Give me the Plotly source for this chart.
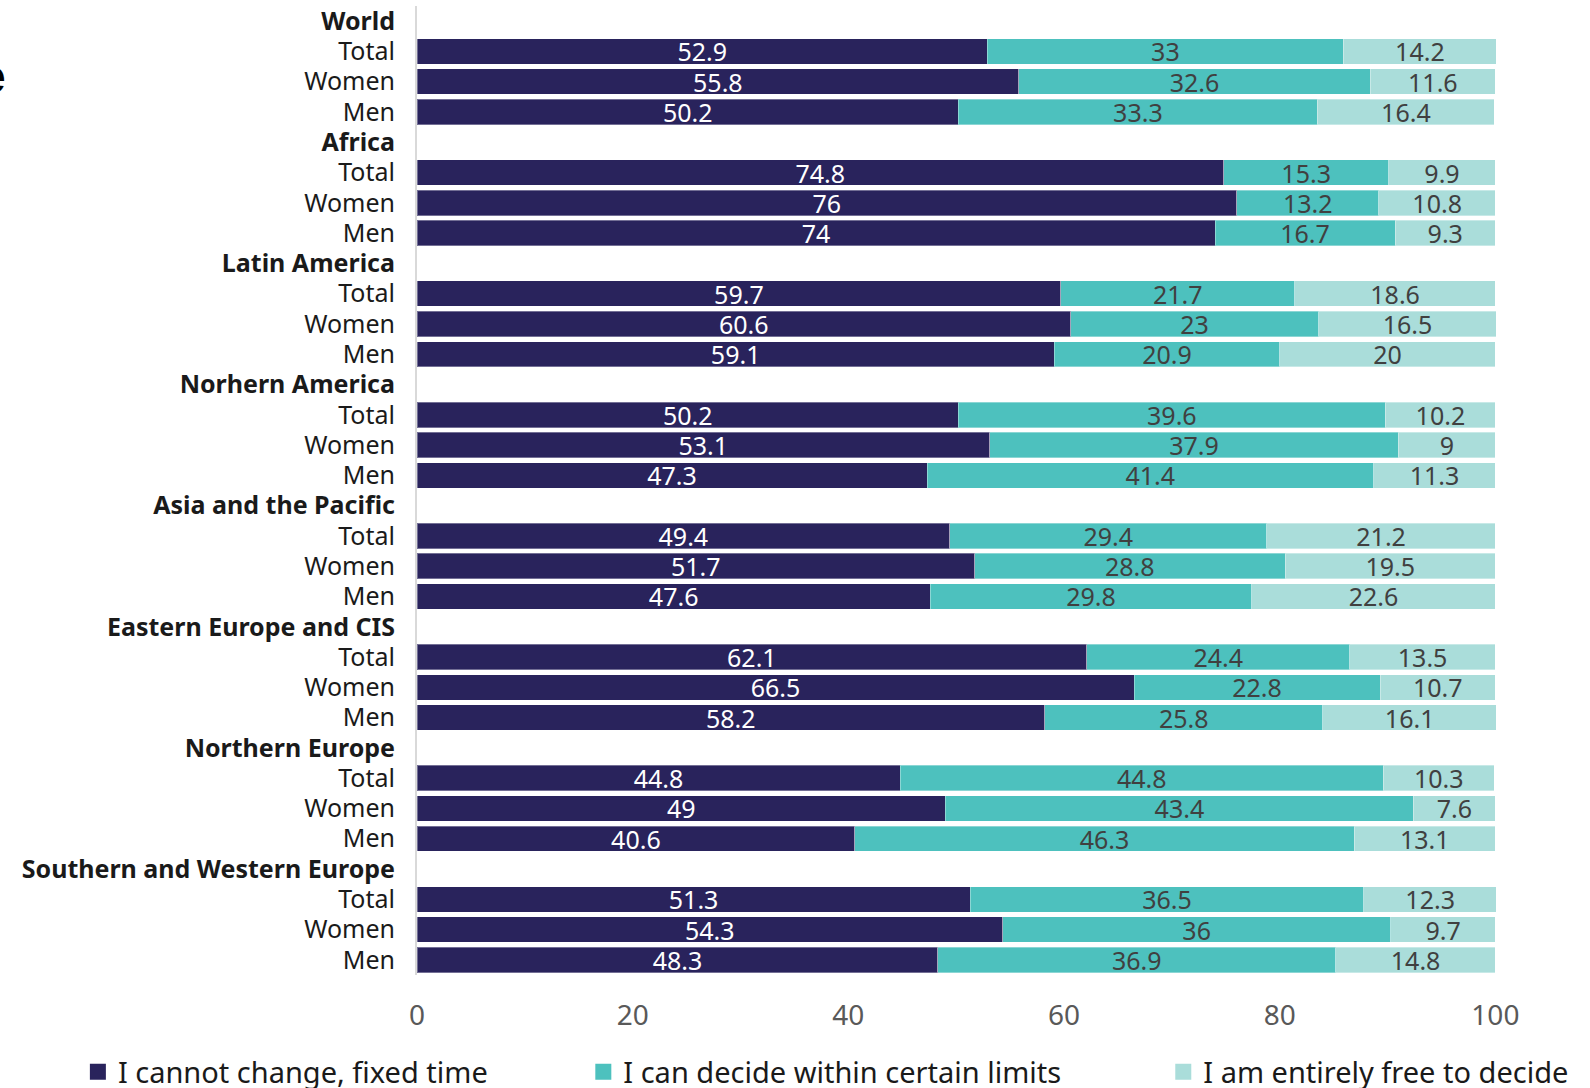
import plotly.graph_objects as go

regions = ["World", "Africa", "Latin America", "Norhern America", "Asia and the Pacific",
           "Eastern Europe and CIS", "Northern Europe", "Southern and Western Europe"]
groups = ["Total", "Women", "Men"]

fixed_time = [52.9, 55.8, 50.2, 74.8, 76, 74, 59.7, 60.6, 59.1, 50.2, 53.1, 47.3,
              49.4, 51.7, 47.6, 62.1, 66.5, 58.2, 44.8, 49, 40.6, 51.3, 54.3, 48.3]
within_limits = [33, 32.6, 33.3, 15.3, 13.2, 16.7, 21.7, 23, 20.9, 39.6, 37.9, 41.4,
                 29.4, 28.8, 29.8, 24.4, 22.8, 25.8, 44.8, 43.4, 46.3, 36.5, 36, 36.9]
entirely_free = [14.2, 11.6, 16.4, 9.9, 10.8, 9.3, 18.6, 16.5, 20, 10.2, 9, 11.3,
                 21.2, 19.5, 22.6, 13.5, 10.7, 16.1, 10.3, 7.6, 13.1, 12.3, 9.7, 14.8]

series_names = ["I cannot change, fixed time", "I can decide within certain limits",
                "I am entirely free to decide"]
colors = ["#29235C", "#4DC1BE", "#AADDDA"]
text_colors = ["#FFFFFF", "#404040", "#404040"]

# Build category keys (header rows + data rows)
keys, labels = [], []
for r in regions:
    keys.append(r + "|hdr")
    labels.append("<b>" + r + "</b>")
    for g in groups:
        keys.append(r + "|" + g)
        labels.append(g)

def expand(vals):
    out = []
    i = 0
    for r in regions:
        out.append(None)
        for g in groups:
            out.append(vals[i])
            i += 1
    return out

fig = go.Figure()
legends = ["legend", "legend2", "legend3"]
for name, vals, c, tc, lg in zip(series_names, [fixed_time, within_limits, entirely_free],
                                  colors, text_colors, legends):
    xv = expand(vals)
    txt = ["" if v is None else f"{v:g}" for v in xv]
    fig.add_trace(go.Bar(
        y=keys, x=xv, name=name, orientation="h",
        marker=dict(color=c, line=dict(color="rgba(255,255,255,0.35)", width=1)),
        text=txt, textposition="inside", insidetextanchor="middle", textangle=0,
        textfont=dict(color=tc, size=25, family="Noto Sans"),
        constraintext="none", cliponaxis=False,
        showlegend=False, hoverinfo="skip",
    ))
    # legend entry with a larger square swatch
    fig.add_trace(go.Scatter(
        x=[None], y=[None], mode="markers", name=name,
        marker=dict(symbol="square", size=16, color=c),
        legend=lg, showlegend=True, hoverinfo="skip",
    ))

legend_font = dict(size=29, color="#1a1a1a", family="Noto Sans")
fig.update_layout(
    barmode="stack", bargap=0.16,
    width=1590, height=1088,
    margin=dict(l=417, r=93, t=6, b=113, autoexpand=False),
    plot_bgcolor="white", paper_bgcolor="white",
    font=dict(family="Noto Sans", size=25, color="#1a1a1a"),
    xaxis=dict(range=[0, 100.15], tickvals=[0, 20, 40, 60, 80, 100], showgrid=False,
               zeroline=False, showline=False, ticks="",
               tickfont=dict(size=28, color="#595959"), ticklabelstandoff=21),
    yaxis=dict(categoryorder="array", categoryarray=keys, tickvals=keys, ticktext=labels,
               autorange="reversed", showgrid=False, zeroline=False,
               showline=True, linecolor="#d9d9d9", linewidth=2, ticks="",
               tickfont=dict(size=25, color="#1a1a1a"), ticklabelstandoff=15),
    legend=dict(orientation="h", x=-0.314, xanchor="left", y=-0.100, yanchor="middle",
                font=legend_font, bgcolor="rgba(0,0,0,0)", itemsizing="trace"),
    legend2=dict(orientation="h", x=0.154, xanchor="left", y=-0.100, yanchor="middle",
                 font=legend_font, bgcolor="rgba(0,0,0,0)", itemsizing="trace"),
    legend3=dict(orientation="h", x=0.691, xanchor="left", y=-0.100, yanchor="middle",
                 font=legend_font, bgcolor="rgba(0,0,0,0)", itemsizing="trace"),
    showlegend=True,
)

fig.add_annotation(text="<b>e</b>", xref="paper", yref="paper", x=-0.379, y=0.927,
                   xanchor="right", yanchor="middle", showarrow=False,
                   font=dict(family="Liberation Sans", size=48, color="#000000"))

fig.write_html("out.html")
